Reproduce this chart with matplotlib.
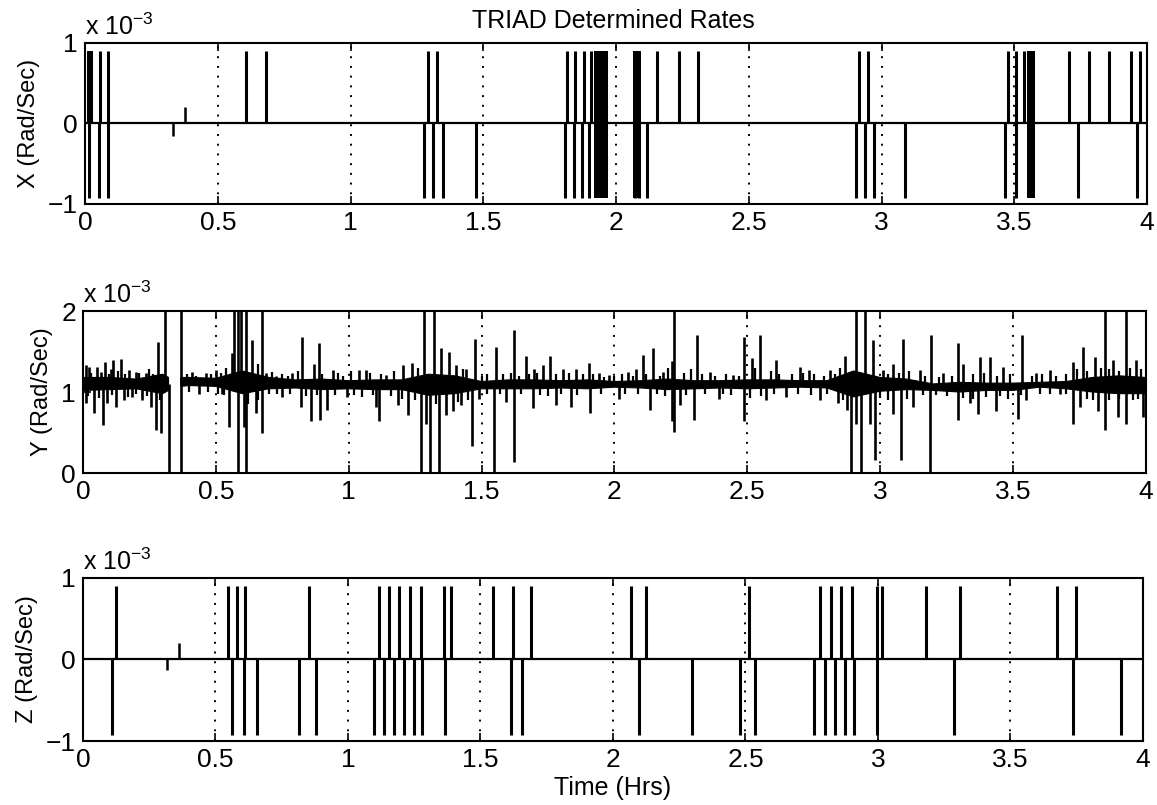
#TRIAD determined rates, three stacked panels in the old MATLAB print style
import numpy as np
import matplotlib
matplotlib.use('Agg')
import matplotlib.pyplot as plt

plt.rcParams['font.family'] = ['Liberation Sans', 'DejaVu Sans']
plt.rcParams['mathtext.fontset'] = 'custom'
plt.rcParams['mathtext.rm'] = 'Liberation Sans'
plt.rcParams['axes.unicode_minus'] = True

Title = 'TRIAD Determined Rates'
Xlabel = 'Time (Hrs)'
Ylabels = ['X (Rad/Sec)', 'Y (Rad/Sec)', 'Z (Rad/Sec)']
Scale = r'x 10$^{-3}$'

t_ticks = [0, 0.5, 1, 1.5, 2, 2.5, 3, 3.5, 4]
t_tick_labels = ['0', '0.5', '1', '1.5', '2', '2.5', '3', '3.5', '4']
x_yticks = [-1, 0, 1]
y_yticks = [0, 1, 2]
z_yticks = [-1, 0, 1]

# ---- X rate (units of 1e-3 rad/s)
x_base = 0.0
x_up_t = [0.015, 0.023, 0.055, 0.087, 0.606, 0.682, 1.290, 1.326, 1.815, 1.846,
          1.879, 1.906, 2.154, 2.237, 2.309, 2.915, 2.949, 3.476, 3.505, 3.537,
          3.706, 3.780, 3.857, 3.940, 3.974]
x_up_v = 0.9
x_dn_t = [0.015, 0.053, 0.086, 1.278, 1.311, 1.348, 1.473, 1.808, 1.842, 1.872,
          1.898, 2.072, 2.087, 2.117, 2.904, 2.938, 2.972, 3.089, 3.465, 3.505,
          3.740, 3.962]
x_dn_v = -0.92
x_blocks = [(0.008, 0.030, 0.0, 0.9), (1.917, 1.970, -0.92, 0.9),
            (2.064, 2.094, -0.92, 0.9), (3.548, 3.578, -0.92, 0.9)]
x_blip_t = [0.331, 0.378]
x_blip_v = [-0.15, 0.2]

# ---- Y rate
y_base = 1.1
y_band_t = [0.0, 0.1, 0.2, 0.3, 0.322, 0.345, 0.368, 0.4, 0.5, 0.6, 0.7, 0.8, 0.9,
            1.0, 1.1, 1.2, 1.3, 1.4, 1.5, 1.6, 1.7, 1.8, 1.9, 2.0, 2.1, 2.2, 2.3,
            2.4, 2.5, 2.6, 2.7, 2.8, 2.9, 3.0, 3.1, 3.2, 3.3, 3.4, 3.5, 3.6, 3.7,
            3.8, 3.9, 4.0]
y_band_lo = [1.02, 1.03, 1.04, 0.98, 1.02, np.nan, 1.07, 1.08, 1.07, 0.98, 1.04, 1.05, 1.03,
             1.04, 1.03, 1.03, 0.96, 0.98, 1.04, 1.04, 1.04, 1.05, 1.04, 1.06, 1.05, 1.03, 1.04,
             1.05, 1.04, 1.05, 1.06, 1.05, 0.94, 1.01, 1.03, 1.02, 1.00, 1.02, 1.02, 1.06, 1.04,
             1.00, 0.98, 0.98]
y_band_hi = [1.18, 1.18, 1.16, 1.22, 1.18, np.nan, 1.18, 1.18, 1.17, 1.26, 1.18, 1.15, 1.16,
             1.14, 1.15, 1.15, 1.22, 1.20, 1.13, 1.15, 1.15, 1.14, 1.15, 1.13, 1.14, 1.16, 1.14,
             1.14, 1.15, 1.15, 1.14, 1.14, 1.26, 1.18, 1.16, 1.10, 1.12, 1.11, 1.11, 1.12, 1.13,
             1.18, 1.20, 1.18]
y_up = [(0.013, 1.33), (0.023, 1.31), (0.051, 1.31), (0.067, 1.25), (0.083, 1.37),
        (0.104, 1.29), (0.114, 1.39), (0.144, 1.41), (0.173, 1.27), (0.198, 1.25),
        (0.236, 1.23), (0.284, 1.62), (0.308, 2.0), (0.368, 2.0), (0.412, 1.25),
        (0.462, 1.23), (0.500, 1.27), (0.560, 1.48), (0.570, 2.0), (0.583, 2.0),
        (0.595, 2.0), (0.615, 2.0), (0.638, 1.64), (0.672, 2.0), (0.688, 1.23),
        (0.726, 1.20), (0.788, 1.23), (0.826, 1.68), (0.868, 1.35), (0.889, 1.60),
        (0.940, 1.27), (1.040, 1.27), (1.065, 1.27), (1.140, 1.21), (1.203, 1.33),
        (1.240, 1.36), (1.282, 2.0), (1.320, 2.0), (1.347, 1.54), (1.379, 1.50),
        (1.404, 1.33), (1.442, 1.29), (1.475, 1.66), (1.554, 1.56), (1.623, 1.77),
        (1.667, 1.44), (1.699, 1.29), (1.730, 1.33), (1.758, 1.44), (1.806, 1.29),
        (1.856, 1.29), (1.903, 1.36), (1.943, 1.23), (1.981, 1.21), (2.050, 1.25),
        (2.082, 1.29), (2.107, 1.46), (2.144, 1.54), (2.182, 1.25), (2.215, 1.38),
        (2.226, 2.0), (2.310, 1.70), (2.358, 1.25), (2.446, 1.21), (2.486, 1.68),
        (2.518, 1.42), (2.546, 1.70), (2.609, 1.39), (2.697, 1.31), (2.734, 1.27),
        (2.810, 1.27), (2.866, 1.45), (2.908, 2.0), (2.942, 2.0), (2.973, 1.64),
        (3.010, 1.27), (3.048, 1.35), (3.086, 1.66), (3.149, 1.27), (3.193, 1.70),
        (3.237, 1.23), (3.293, 1.60), (3.312, 1.35), (3.374, 1.43), (3.412, 1.43),
        (3.462, 1.31), (3.532, 1.70), (3.588, 1.23), (3.638, 1.27), (3.726, 1.37),
        (3.764, 1.56), (3.808, 1.43), (3.846, 2.0), (3.877, 1.39), (3.925, 2.0),
        (3.964, 1.39)]
y_dn = [(0.013, 0.86), (0.041, 0.74), (0.075, 0.59), (0.092, 0.86), (0.123, 0.82),
        (0.154, 0.90), (0.186, 0.94), (0.223, 0.90), (0.255, 0.82), (0.274, 0.53),
        (0.295, 0.49), (0.324, 0.0), (0.368, 0.0), (0.437, 0.98), (0.525, 0.97),
        (0.550, 0.57), (0.583, 0.0), (0.607, 0.57), (0.615, 0.0), (0.650, 0.74),
        (0.672, 0.49), (0.750, 0.94), (0.820, 0.82), (0.860, 0.64), (0.892, 0.66),
        (0.920, 0.78), (0.992, 0.94), (1.102, 0.82), (1.115, 0.64), (1.184, 0.84),
        (1.222, 0.72), (1.272, 0.0), (1.290, 0.60), (1.307, 0.0), (1.338, 0.0),
        (1.366, 0.72), (1.391, 0.76), (1.423, 0.84), (1.464, 0.33), (1.490, 0.92),
        (1.548, 0.0), (1.592, 0.88), (1.623, 0.14), (1.692, 0.80), (1.781, 0.84),
        (1.837, 0.82), (1.908, 0.74), (2.019, 0.92), (2.132, 0.78), (2.215, 0.64),
        (2.226, 0.51), (2.245, 0.84), (2.301, 0.66), (2.395, 0.92), (2.486, 0.64),
        (2.571, 0.90), (2.647, 0.94), (2.772, 0.90), (2.841, 0.86), (2.875, 0.78),
        (2.891, 0.0), (2.908, 0.60), (2.929, 0.0), (2.960, 0.61), (2.979, 0.16),
        (3.048, 0.73), (3.080, 0.16), (3.124, 0.81), (3.186, 0.0), (3.293, 0.65),
        (3.337, 0.86), (3.368, 0.73), (3.437, 0.77), (3.519, 0.67), (3.550, 0.90),
        (3.676, 0.98), (3.726, 0.61), (3.751, 0.81), (3.820, 0.77), (3.846, 0.53),
        (3.896, 0.69), (3.925, 0.61), (3.989, 0.69)]
# small jitter of the band
y_small_up = [(0.030, 1.24), (0.097, 1.22), (0.130, 1.26), (0.160, 1.22), (0.210, 1.24),
              (0.250, 1.28), (0.265, 1.22), (0.390, 1.22), (0.425, 1.20), (0.480, 1.22),
              (0.520, 1.24), (0.540, 1.30), (0.660, 1.35), (0.710, 1.25), (0.750, 1.22),
              (0.770, 1.20), (0.810, 1.26), (0.900, 1.22), (0.960, 1.24), (0.980, 1.20),
              (1.010, 1.26), (1.080, 1.24), (1.120, 1.22), (1.170, 1.26), (1.260, 1.30),
              (1.430, 1.28), (1.500, 1.20), (1.520, 1.22), (1.580, 1.22), (1.610, 1.24),
              (1.640, 1.20), (1.680, 1.22), (1.710, 1.24), (1.780, 1.22), (1.830, 1.24),
              (1.880, 1.22), (1.920, 1.22), (1.960, 1.18), (2.000, 1.20), (2.030, 1.22),
              (2.070, 1.20), (2.120, 1.22), (2.170, 1.20), (2.200, 1.30), (2.260, 1.24),
              (2.290, 1.28), (2.330, 1.22), (2.380, 1.20), (2.420, 1.22), (2.470, 1.20),
              (2.530, 1.30), (2.590, 1.26), (2.620, 1.22), (2.670, 1.22), (2.710, 1.24),
              (2.750, 1.22), (2.790, 1.20), (2.830, 1.22), (2.850, 1.30), (3.030, 1.22),
              (3.070, 1.24), (3.110, 1.26), (3.170, 1.20), (3.220, 1.18), (3.270, 1.20),
              (3.350, 1.22), (3.390, 1.24), (3.440, 1.20), (3.490, 1.22), (3.570, 1.20),
              (3.610, 1.22), (3.660, 1.20), (3.700, 1.22), (3.740, 1.28), (3.780, 1.26),
              (3.830, 1.30), (3.860, 1.28), (3.900, 1.26), (3.940, 1.30), (3.980, 1.28)]
y_small_dn = [(0.020, 0.95), (0.060, 0.93), (0.110, 0.96), (0.170, 0.94), (0.200, 0.97),
              (0.240, 0.95), (0.290, 0.90), (0.400, 1.00), (0.470, 1.00), (0.510, 0.98),
              (0.530, 0.96), (0.620, 0.85), (0.660, 0.90), (0.700, 0.98), (0.730, 0.98),
              (0.780, 0.97), (0.840, 0.95), (0.880, 0.96), (0.950, 0.96), (1.020, 0.96),
              (1.050, 0.94), (1.090, 0.96), (1.160, 0.95), (1.200, 0.92), (1.250, 0.90),
              (1.330, 0.85), (1.410, 0.88), (1.450, 0.90), (1.520, 0.98), (1.570, 0.97),
              (1.650, 0.97), (1.720, 0.96), (1.750, 0.95), (1.800, 0.97), (1.860, 0.96),
              (1.950, 0.98), (2.040, 0.97), (2.090, 0.98), (2.160, 0.97), (2.190, 0.95),
              (2.270, 0.96), (2.340, 0.97), (2.410, 0.98), (2.440, 0.96), (2.510, 0.93),
              (2.550, 0.95), (2.600, 0.97), (2.690, 0.97), (2.740, 0.96), (2.800, 0.97),
              (2.860, 0.90), (3.000, 0.93), (3.030, 0.90), (3.100, 0.92), (3.160, 0.96),
              (3.210, 0.96), (3.250, 0.95), (3.310, 0.93), (3.350, 0.92), (3.400, 0.94),
              (3.450, 0.95), (3.480, 0.92), (3.530, 0.96), (3.600, 0.98), (3.640, 0.98),
              (3.700, 0.97), (3.780, 0.92), (3.800, 0.90), (3.860, 0.90), (3.900, 0.92),
              (3.950, 0.90), (3.970, 0.92)]

# ---- Z rate
z_base = 0.0
z_up_t = [0.123, 0.547, 0.580, 0.613, 0.852, 1.116, 1.155, 1.192, 1.235, 1.275,
          1.362, 1.388, 1.546, 1.622, 1.690, 2.069, 2.126, 2.515, 2.781, 2.821,
          2.860, 2.902, 2.995, 3.015, 3.183, 3.308, 3.676, 3.749]
z_up_v = 0.9
z_dn_t = [0.108, 0.562, 0.606, 0.658, 0.816, 0.879, 1.099, 1.136, 1.174, 1.213,
          1.249, 1.281, 1.366, 1.617, 1.657, 2.098, 2.299, 2.480, 2.537, 2.760,
          2.801, 2.838, 2.876, 2.908, 2.995, 3.287, 3.735, 3.917]
z_dn_v = -0.93
z_blip_t = [0.318, 0.364]
z_blip_v = [-0.13, 0.2]

# axes rectangles in figure fractions (left, bottom, width, height)
rects = [[0.0735, 0.7466, 0.9180, 0.2000],
         [0.0717, 0.4124, 0.9187, 0.2012],
         [0.0717, 0.0795, 0.9162, 0.2025]]


def Styleize(ax, yticks, ylim, ylabel):
    ax.set_xlim(t_ticks[0], t_ticks[-1])
    ax.set_ylim(ylim)
    ax.set_xticks(t_ticks)
    ax.set_xticklabels(t_tick_labels)
    ax.set_yticks(yticks)
    ax.tick_params(direction='in', top=True, right=True, length=6, width=1.2,
                   labelsize=19, pad=5)
    ax.xaxis.grid(True, linestyle=(0, (1, 4)), color='k', linewidth=1.4)
    for s in ax.spines.values():
        s.set_linewidth(1.5)
    ax.set_ylabel(ylabel, fontsize=17, labelpad=6)
    ax.text(0.0, 1.05, Scale, transform=ax.transAxes, fontsize=18,
            ha='left', va='baseline')


def SpikePanel(ax, base, up_t, up_v, dn_t, dn_v, blip_t, blip_v):
    ax.axhline(base, color='k', linewidth=1.6)
    ax.vlines(up_t, base, up_v, color='k', linewidth=2.2)
    ax.vlines(dn_t, base, dn_v, color='k', linewidth=2.2)
    ax.vlines(blip_t, base, blip_v, color='k', linewidth=1.8)


def PairLines(ax, pairs, base, lw):
    t, v = zip(*pairs)
    ax.vlines(t, base, v, color='k', linewidth=lw)


fig = plt.figure(figsize=(11.57, 8.05), dpi=100)
ax1 = fig.add_axes(rects[0])
ax2 = fig.add_axes(rects[1])
ax3 = fig.add_axes(rects[2])

SpikePanel(ax1, x_base, x_up_t, x_up_v, x_dn_t, x_dn_v, x_blip_t, x_blip_v)
for t0, t1, lo, hi in x_blocks:
    ax1.fill_between([t0, t1], [lo, lo], [hi, hi], color='k', linewidth=0)
Styleize(ax1, x_yticks, (-1, 1), Ylabels[0])

ax2.fill_between(y_band_t, y_band_lo, y_band_hi, color='k', linewidth=0.8)
PairLines(ax2, y_small_up, y_base, 1.6)
PairLines(ax2, y_small_dn, y_base, 1.6)
PairLines(ax2, y_up, y_base, 1.9)
PairLines(ax2, y_dn, y_base, 1.9)
Styleize(ax2, y_yticks, (0, 2), Ylabels[1])

SpikePanel(ax3, z_base, z_up_t, z_up_v, z_dn_t, z_dn_v, z_blip_t, z_blip_v)
Styleize(ax3, z_yticks, (-1, 1), Ylabels[2])
ax3.set_xlabel(Xlabel, fontsize=18, labelpad=3)

fig.text(0.53, 0.974, Title, fontsize=18, ha='center', va='center')

fig.savefig('out.png', dpi=100)
plt.close()
